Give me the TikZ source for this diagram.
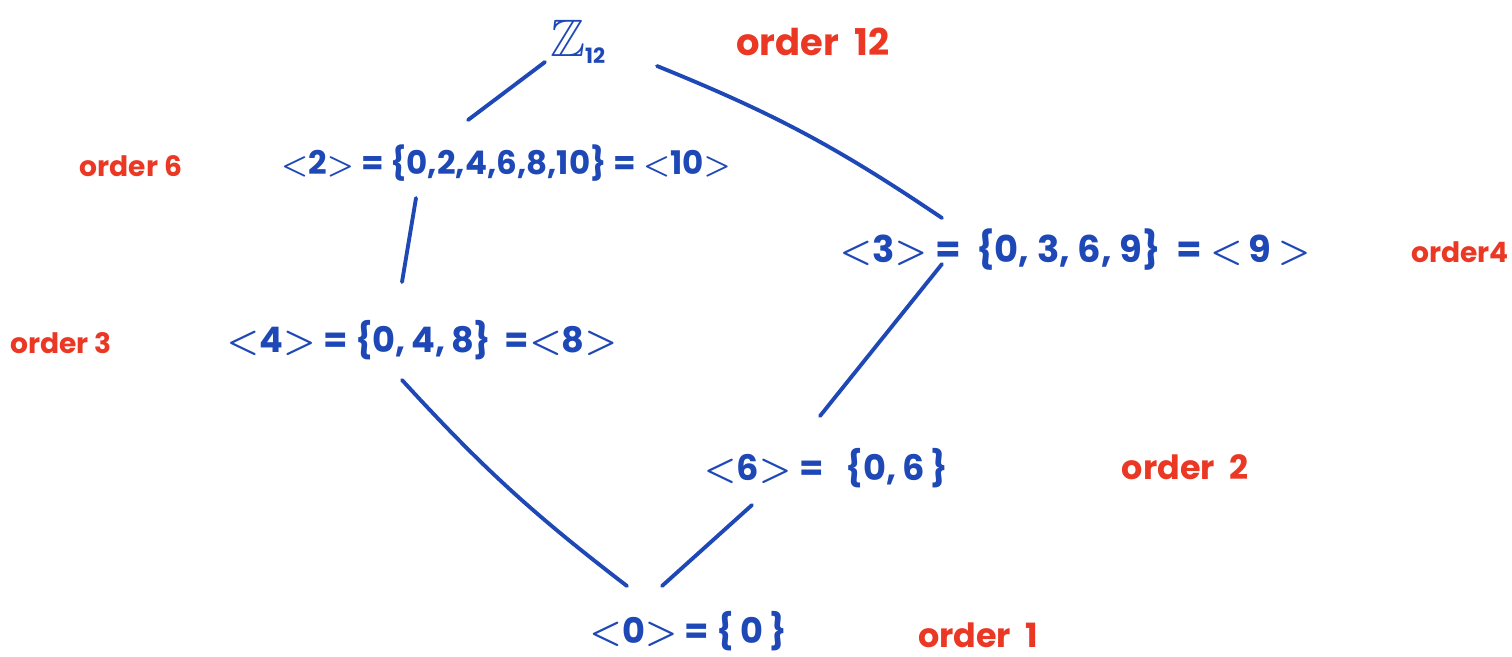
\documentclass[tikz,border=0pt]{standalone}
\usepackage{amssymb}
\usepackage{fontspec}
\setmainfont{Poppins}

% cyclic subgroup generated by #1
\newcommand{\gen}[1]{{\boldmath$<$}#1{\boldmath$>$}}

\begin{document}
\begin{tikzpicture}[
    sub/.style={text=SubBlue, font=\fontsize{18.5}{22}\bfseries},
    ord/.style={text=OrderRed},
    edge/.style={draw=SubBlue, line width=2.2pt, line cap=round}
]

    % colours of the subgroups and of the orders
    \definecolor{SubBlue}{RGB}{30, 72, 182}
    \definecolor{OrderRed}{RGB}{234, 56, 36}

    \useasboundingbox (0,0) rectangle (30.24,-13.12);

    % subgroups
    \node[sub, font=\fontsize{30}{32}\selectfont] (z12) at (11.56,-0.84) {$\mathbb{Z}_{\mbox{\fontsize{12}{12}\bfseries 12}}$};
    \node[sub] (h2) at (10.12,-3.26) {\gen{2} = \{0,2,4,6,8,10\} = \gen{10}};
    \node[sub, font=\fontsize{21}{24}\bfseries] (h3) at (21.5,-5.0) {\gen{3} = \ \{0, 3, 6, 9\} \ = \gen{\,9\,}};
    \node[sub, font=\fontsize{20}{22}\bfseries] (h4) at (8.44,-6.8) {\gen{4} = \{0,\,4,\,8\} \,=\gen{8}};
    \node[sub, font=\fontsize{20}{22}\bfseries] (h6) at (16.52,-9.36) {\gen{6} = \ \ \{0,\,6\,\}};
    \node[sub, font=\fontsize{20}{22}\bfseries] (h0) at (13.76,-12.62) {\gen{0} = \{\,0\,\}};

    % orders
    \node[ord, font=\fontsize{21}{24}\bfseries] (o12) at (16.26,-0.84) {order \ 12};
    \node[ord, font=\fontsize{16}{18}\bfseries] (o6) at (2.62,-3.32) {order 6};
    \node[ord, font=\fontsize{16}{18}\bfseries] (o4) at (29.2,-5.04) {order4};
    \node[ord, font=\fontsize{16}{18}\bfseries] (o3) at (1.22,-6.86) {order 3};
    \node[ord, font=\fontsize{19}{22}\bfseries] (o2) at (23.7,-9.34) {order \ 2};
    \node[ord, font=\fontsize{19}{22}\bfseries] (o1) at (19.56,-12.7) {order \ 1};

    % lattice lines
    \draw[edge] ([shift={(-0.66,-0.40)}]z12.center) -- ([shift={(-0.76,0.86)}]h2.center);
    \draw[edge] ([shift={(1.58,-0.48)}]z12.center) to[bend left=6] ([shift={(-2.66,0.64)}]h3.center);
    \draw[edge] ([shift={(-1.80,-0.70)}]h2.center) -- ([shift={(-0.40,1.16)}]h4.center);
    \draw[edge] ([shift={(-2.66,-0.28)}]h3.center) -- ([shift={(-0.12,1.04)}]h6.center);
    \draw[edge] ([shift={(-0.40,-0.80)}]h4.center) to[bend right=5] ([shift={(-1.22,0.90)}]h0.center);
    \draw[edge] ([shift={(-1.48,-0.74)}]h6.center) -- ([shift={(-0.52,0.90)}]h0.center);

\end{tikzpicture}
\end{document}
